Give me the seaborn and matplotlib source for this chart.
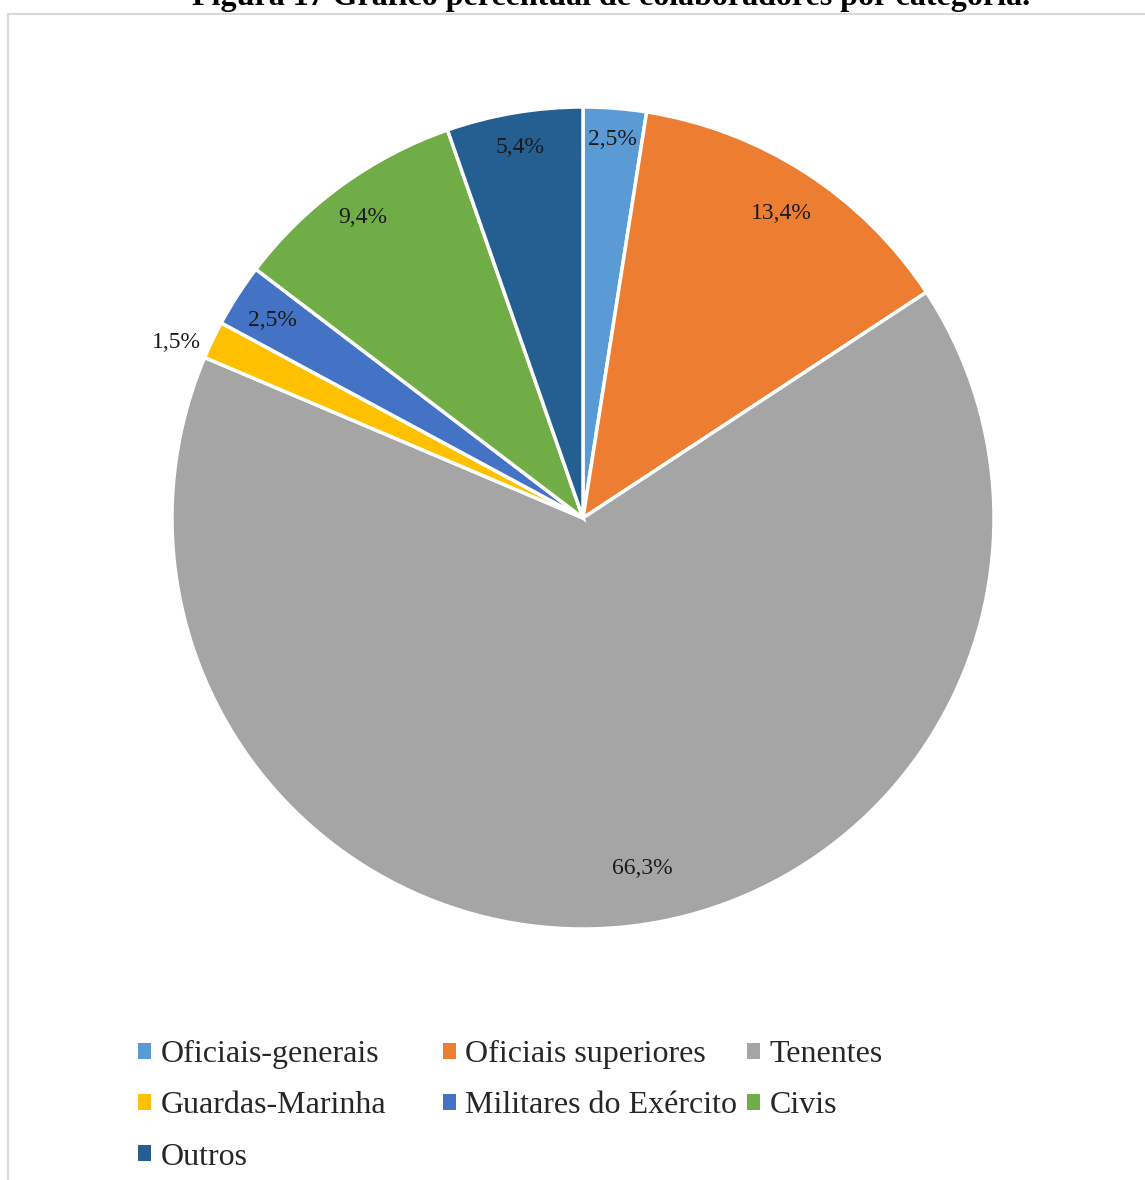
import numpy as np
import matplotlib
matplotlib.use("Agg")
import matplotlib.pyplot as plt
from matplotlib.patches import Patch, Rectangle
import seaborn as sns

categories = ["Oficiais-generais", "Oficiais superiores", "Tenentes", "Guardas-Marinha",
              "Militares do Exército", "Civis", "Outros"]
values = [2.5, 13.4, 66.3, 1.5, 2.5, 9.4, 5.4]
value_labels = ["2,5%", "13,4%", "66,3%", "1,5%", "2,5%", "9,4%", "5,4%"]
colors = ["#5B9BD5", "#ED7D31", "#A5A5A5", "#FFC000", "#4472C4", "#70AD47", "#255E91"]
title = "Figura 17 Gráfico percentual de colaboradores por categoria."

sns.set_theme(style="white")
plt.rcParams['font.family'] = ['Liberation Serif', 'DejaVu Serif']

W, H = 1145, 1180
fig = plt.figure(figsize=(W / 100, H / 100), dpi=100)
fig.patch.set_facecolor("white")

# border of chart area
fig.patches.append(Rectangle((8 / W, -0.01), 1.1, 1 - 14 / H + 0.01, transform=fig.transFigure,
                             fill=False, edgecolor="#d9d9d9", linewidth=1.5))

cx, cy, R = 583, 518, 411
ax = fig.add_axes([(cx - R) / W, (H - cy - R) / H, 2 * R / W, 2 * R / H])
palette = sns.color_palette(colors)
wedges, _ = ax.pie(values, colors=palette, startangle=90, counterclock=False,
                   wedgeprops=dict(edgecolor="white", linewidth=2.5))
ax.set_xlim(-1, 1)
ax.set_ylim(-1, 1)
ax.set_aspect("equal")
ax.axis("off")

radii = [0.93, 0.89, 0.86, 1.08, 0.90, 0.91, 0.92]
angle_shift = [0, 0, 4.5, 2.0, 0, 0, 0]
for w, lab, r, da in zip(wedges, value_labels, radii, angle_shift):
    ang = np.deg2rad((w.theta1 + w.theta2) / 2 + da)
    ax.text(r * np.cos(ang), r * np.sin(ang), lab, ha="center", va="center_baseline",
            fontsize=17, color="#1a1a1a")

fig.text(611 / W, 1 - 5 / H, title, ha="center", va="baseline", fontsize=23,
         fontweight="bold", color="black")

handles = [Patch(facecolor=c, edgecolor="none") for c in colors]
columns = [[0, 3, 6], [1, 4], [2, 5]]
xs = [138, 443, 747]
for col, x in zip(columns, xs):
    fig.legend([handles[i] for i in col], [categories[i] for i in col],
               loc="upper left", bbox_to_anchor=(x / W, 1 - 1040 / H),
               frameon=False, fontsize=23, handlelength=0.4, handleheight=0.4,
               handletextpad=0.3, labelspacing=0.7, borderpad=0, borderaxespad=0)

fig.savefig("out.png", dpi=100, facecolor="white")
